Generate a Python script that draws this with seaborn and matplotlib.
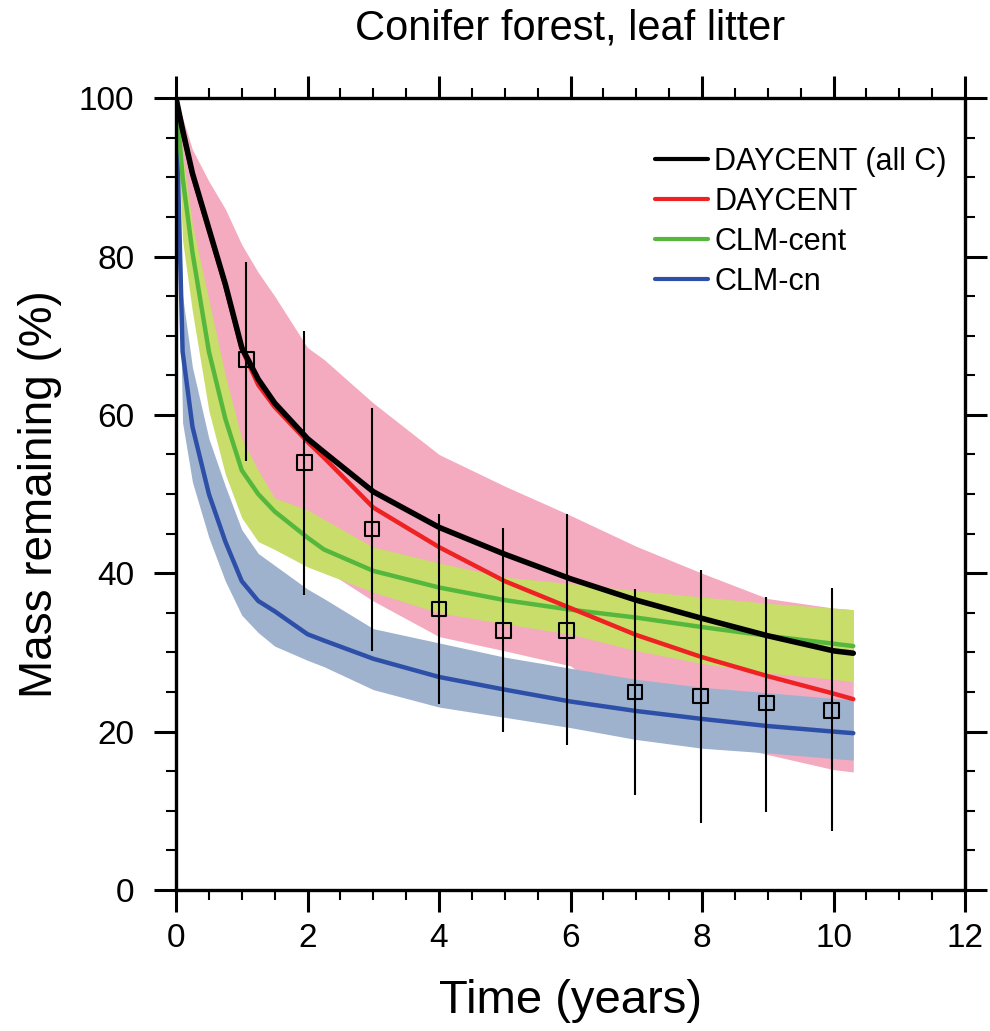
import numpy as np
import pandas as pd
import matplotlib
matplotlib.use("Agg")
import matplotlib.pyplot as plt
import seaborn as sns
from matplotlib.ticker import MultipleLocator
from matplotlib.lines import Line2D

# time axis (years)
t = [0, 0.1, 0.25, 0.5, 0.75, 1, 1.25, 1.5, 2, 2.25, 3, 4, 5, 6, 7, 8, 9, 10, 10.3]

# model means
daycent_allc = [100, 96, 90.5, 83.5, 76.5, 68.5, 64.5, 61.5, 57, 55.3, 50.3, 45.8, 42.4, 39.3, 36.6, 34.3, 32.1, 30.2, 29.9]
daycent = [100, 95.8, 90.3, 83.3, 76.3, 68.3, 63.8, 61, 56.6, 54.6, 48.3, 43.3, 39, 35.6, 32.2, 29.4, 27, 24.8, 24.1]
clm_cent = [100, 90, 80.5, 68, 59.5, 53, 50, 47.8, 44.5, 43, 40.3, 38.2, 36.6, 35.4, 34.4, 33.2, 32.1, 31.1, 30.8]
clm_cn = [100, 68, 58.5, 50, 44, 39, 36.5, 35.2, 32.3, 31.5, 29.2, 26.9, 25.3, 23.8, 22.6, 21.6, 20.7, 20.0, 19.8]

# ranges
daycent_hi = [100, 97.5, 93.5, 89.5, 86, 81.5, 78, 75, 68.5, 67, 61.5, 55, 51, 47.3, 43.4, 40, 36.8, 35.6, 35.4]
daycent_lo = [100, 88, 80, 68, 58, 52, 48, 45.5, 42, 40.5, 36.5, 32, 30.2, 28.3, 22, 19, 17.1, 15.2, 14.9]
cent_hi = [100, 93, 84, 74.5, 65, 57, 53, 49.5, 48, 46.8, 43.3, 41.3, 39.5, 38.7, 37.8, 37, 36.2, 35.6, 35.4]
cent_lo = [100, 82, 73, 60.5, 52.5, 47, 44, 43, 40.8, 40, 37.6, 35, 33.6, 32.3, 30.2, 28.6, 27.4, 26.6, 26.3]
cn_hi = [100, 75, 66, 57, 51, 45.5, 42.5, 41, 38, 36.8, 33, 31.2, 29.4, 28, 26.6, 25.6, 24.9, 24.2, 24]
cn_lo = [100, 59, 51.5, 44.5, 39, 34.7, 32.5, 30.8, 29, 28.2, 25.3, 23.1, 21.8, 20.5, 19, 17.9, 17.3, 16.6, 16.4]

# observations
obs_t = [1.07, 1.95, 2.98, 4.0, 4.98, 5.94, 6.98, 7.98, 8.98, 9.97]
obs_mean = [67, 54, 45.6, 35.5, 32.8, 32.8, 25, 24.5, 23.6, 22.7]
obs_lo = [54.2, 37.2, 30.2, 23.5, 20, 18.3, 12, 8.5, 9.8, 7.4]
obs_hi = [79.3, 70.6, 60.9, 47.5, 45.7, 47.5, 38, 40.4, 37, 38.1]

models = ['DAYCENT (all C)', 'DAYCENT', 'CLM-cent', 'CLM-cn']

sns.set_style("ticks", {'axes.edgecolor': 'black', 'text.color': 'black',
                        'xtick.color': 'black', 'ytick.color': 'black',
                        'axes.labelcolor': 'black'})
plt.rcParams['font.family'] = ['Liberation Sans', 'DejaVu Sans']

df = pd.DataFrame({
    'Time': t * 4,
    'Mass': daycent_allc + daycent + clm_cent + clm_cn,
    'Model': [m for m in models for _ in t],
})
palette = {'DAYCENT (all C)': 'black', 'DAYCENT': '#EE2222',
           'CLM-cent': '#55B83C', 'CLM-cn': '#2E4FA8'}

fig = plt.figure(figsize=(9.9, 10.31), dpi=100)
ax = fig.add_axes([0.1778, 0.1368, 0.797, 0.768])

ax.fill_between(t, daycent_lo, daycent_hi, color='#F4AABF', lw=0)
ax.fill_between(t, cent_lo, cent_hi, color='#C9DD6B', lw=0)
ax.fill_between(t, cn_lo, cn_hi, color='#9EB2CE', lw=0)

sns.lineplot(data=df, x='Time', y='Mass', hue='Model', palette=palette,
             hue_order=models[::-1], lw=3.2, ax=ax, legend=False,
             estimator=None, sort=False)
ax.lines[-1].set_linewidth(4)

ax.vlines(obs_t, obs_lo, obs_hi, color='black', lw=1.5)
sns.scatterplot(x=obs_t, y=obs_mean, marker='s', s=110, facecolor='none',
                edgecolor='black', linewidth=1.5, ax=ax, zorder=5)

handles = [Line2D([], [], color=palette[m], lw=3) for m in models]
ax.legend(handles, models, loc='upper right', bbox_to_anchor=(1.0, 0.962),
          frameon=False, fontsize=22, handlelength=1.75, handletextpad=0.2,
          labelspacing=0.33, borderaxespad=0.2)

ax.set_xlim(0, 12)
ax.set_ylim(0, 100)
ax.xaxis.set_major_locator(MultipleLocator(2))
ax.xaxis.set_minor_locator(MultipleLocator(0.5))
ax.yaxis.set_major_locator(MultipleLocator(20))
ax.yaxis.set_minor_locator(MultipleLocator(5))
ax.tick_params(which='both', direction='out', top=True, right=True)
ax.tick_params(which='major', length=16, width=2.2, labelsize=24)
ax.tick_params(which='minor', length=7, width=1.5)
ax.tick_params(axis='y', which='major', pad=14)
ax.tick_params(axis='x', which='major', pad=8)
for s in ax.spines.values():
    s.set_linewidth(2.4)

ax.set_xlabel('Time (years)', fontsize=34, labelpad=18)
ax.set_ylabel('Mass remaining (%)', fontsize=33, labelpad=12)
ax.set_title('Conifer forest, leaf litter', fontsize=30, pad=42)

fig.savefig('out.png', dpi=100)
